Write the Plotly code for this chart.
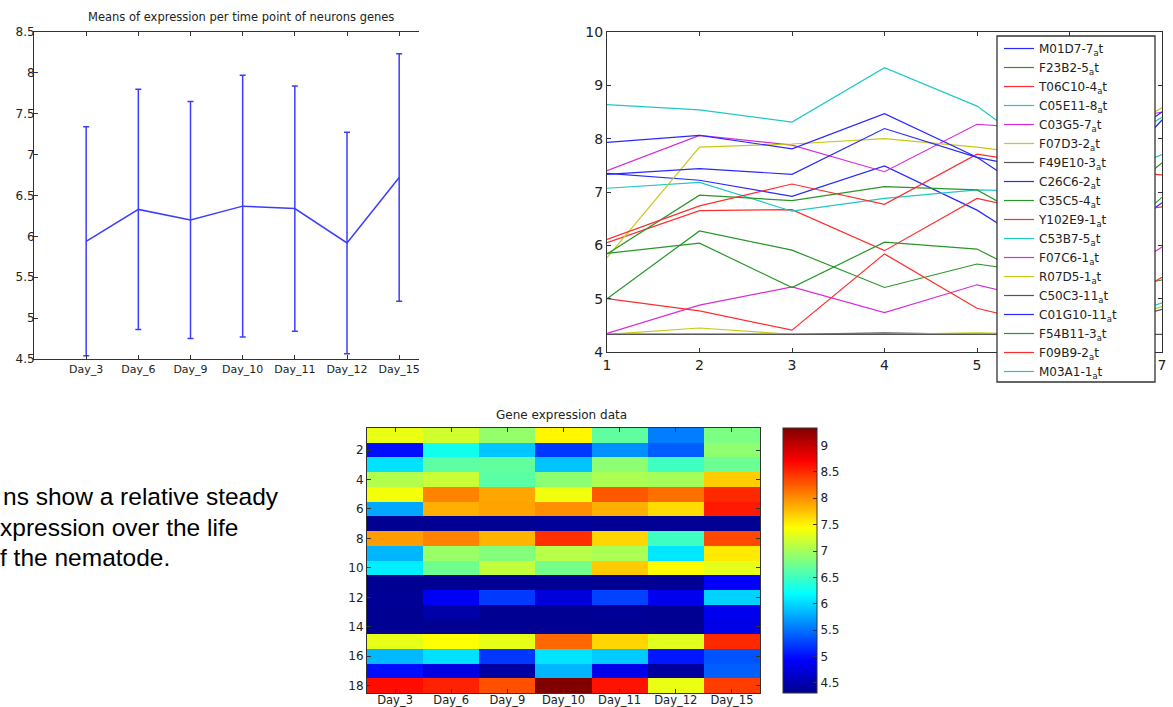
import plotly.graph_objects as go

W, H = 1173, 707

# ---------------- data ----------------
days = ["Day_3", "Day_6", "Day_9", "Day_10", "Day_11", "Day_12", "Day_15"]
time_idx = [1, 2, 3, 4, 5, 6, 7]

# left panel: mean and std of expression per time point
mean_expr = [5.94, 6.33, 6.20, 6.37, 6.34, 5.92, 6.72]
std_expr = [1.40, 1.47, 1.45, 1.60, 1.50, 1.355, 1.515]

genes = ["M01D7-7_at", "F23B2-5_at", "T06C10-4_at", "C05E11-8_at", "C03G5-7_at",
         "F07D3-2_at", "F49E10-3_at", "C26C6-2_at", "C35C5-4_at", "Y102E9-1_at",
         "C53B7-5_at", "F07C6-1_at", "R07D5-1_at", "C50C3-11_at", "C01G10-11_at",
         "F54B11-3_at", "F09B9-2_at", "M03A1-1_at"]

# expression per gene (rows) and time point (columns)
expression = [
    [7.35, 7.22, 6.92, 7.49, 6.66, 5.56, 6.80],
    [5.00, 6.27, 5.91, 5.21, 5.65, 5.40, 6.90],
    [6.05, 6.65, 6.67, 5.90, 6.88, 6.50, 6.72],
    [7.07, 7.18, 6.64, 6.88, 7.04, 7.00, 7.70],
    [7.40, 8.06, 7.88, 7.38, 8.27, 8.15, 8.50],
    [5.77, 7.84, 7.90, 8.00, 7.84, 7.62, 8.58],
    [4.33, 4.33, 4.33, 4.36, 4.33, 4.33, 4.33],
    [7.93, 8.06, 7.81, 8.47, 7.65, 6.50, 8.35],
    [5.84, 6.94, 6.84, 7.10, 7.04, 6.08, 7.55],
    [6.11, 6.74, 7.15, 6.77, 7.71, 7.45, 7.32],
    [4.33, 4.33, 4.33, 4.33, 4.33, 4.33, 4.92],
    [4.35, 4.88, 5.22, 4.74, 5.26, 4.85, 5.97],
    [4.33, 4.45, 4.33, 4.33, 4.36, 4.33, 4.85],
    [4.33, 4.33, 4.33, 4.33, 4.33, 4.33, 4.80],
    [7.33, 7.44, 7.33, 8.19, 7.65, 7.30, 8.50],
    [5.85, 6.04, 5.21, 6.06, 5.93, 5.05, 5.35],
    [5.00, 4.77, 4.41, 5.84, 4.82, 4.40, 5.40],
    [8.64, 8.54, 8.31, 9.33, 8.61, 7.35, 8.40],
]
row_idx = list(range(1, 19))
row_ticks = [2, 4, 6, 8, 10, 12, 14, 16, 18]
cbar_ticks = [4.5, 5, 5.5, 6, 6.5, 7, 7.5, 8, 8.5, 9]

line_colors = ["rgb(40,40,255)", "rgb(40,150,40)", "rgb(255,45,45)", "rgb(30,200,200)",
               "rgb(215,45,215)", "rgb(200,200,25)", "rgb(85,85,85)"]

jet = [[0, "rgb(0,0,143)"], [0.125, "rgb(0,0,255)"], [0.375, "rgb(0,255,255)"],
       [0.625, "rgb(255,255,0)"], [0.875, "rgb(255,0,0)"], [1, "rgb(128,0,0)"]]


def px_x(p):
    return p / W


def px_y(p):
    return 1 - p / H


TXT = "#222"
AX = "#333"

fig = go.Figure()

# left: mean with error bars
fig.add_trace(go.Scatter(
    x=time_idx, y=mean_expr, mode="lines",
    line=dict(color="rgb(60,60,255)", width=1.5),
    error_y=dict(type="data", array=std_expr, visible=True,
                 color="rgb(60,60,255)", thickness=1.5, width=3),
    xaxis="x", yaxis="y", showlegend=False, hoverinfo="skip"))

# right: one line per gene
for i, g in enumerate(genes):
    fig.add_trace(go.Scatter(
        x=time_idx, y=expression[i], mode="lines",
        name=g.replace("_at", "<sub>a</sub>t"),
        line=dict(color=line_colors[i % 7], width=1.2),
        xaxis="x2", yaxis="y2"))

# bottom: heatmap
fig.add_trace(go.Heatmap(
    z=expression, x=time_idx, y=row_idx, colorscale=jet, zmin=4.31, zmax=9.33,
    xaxis="x3", yaxis="y3", showlegend=False,
    colorbar=dict(x=px_x(783), xanchor="left", xpad=0, y=px_y(428), yanchor="top", ypad=0,
                  len=265, lenmode="pixels", thickness=34, thicknessmode="pixels",
                  outlinewidth=1, outlinecolor=AX,
                  tickvals=cbar_ticks, ticks="inside", ticklen=4, tickcolor=AX,
                  tickfont=dict(family="DejaVu Sans", size=12, color=TXT))))

tf11 = dict(family="DejaVu Sans", size=11, color=TXT)
tf12 = dict(family="DejaVu Sans", size=12, color=TXT)
tf14 = dict(family="DejaVu Sans", size=14, color=TXT)
common = dict(showgrid=False, zeroline=False, showline=True, linecolor=AX, linewidth=1,
              ticks="inside", ticklen=4, tickcolor=AX)

fig.update_layout(
    width=W, height=H,
    margin=dict(l=0, r=0, t=0, b=0, autoexpand=False),
    paper_bgcolor="white", plot_bgcolor="white",
    xaxis=dict(domain=[px_x(34), px_x(419)], range=[0, 7.38], tickvals=time_idx,
               ticktext=days, mirror="ticks", tickfont=tf11, anchor="y", **common),
    yaxis=dict(domain=[px_y(359), px_y(32)], range=[4.5, 8.5], dtick=0.5,
               tickfont=tf12, anchor="x", ticklabelstandoff=-4, **common),
    xaxis2=dict(domain=[px_x(607), px_x(1162)], range=[1, 7], dtick=1,
                mirror="ticks", tickfont=tf14, anchor="y2", **common),
    yaxis2=dict(domain=[px_y(352), px_y(32)], range=[4, 10], dtick=1,
                mirror="ticks", tickfont=tf14, anchor="x2", **common),
    xaxis3=dict(domain=[px_x(367), px_x(760)], range=[0.5, 7.5], tickvals=time_idx,
                ticktext=days, mirror="ticks", tickfont=dict(family="DejaVu Sans", size=11.5, color=TXT),
                anchor="y3", ticklabelstandoff=-4, **common),
    yaxis3=dict(domain=[px_y(693), px_y(428)], range=[18.5, 0.5], tickvals=row_ticks,
                mirror="ticks", tickfont=tf12, anchor="x3", **common),
    legend=dict(x=px_x(999), y=px_y(34), xanchor="left", yanchor="top",
                bgcolor="rgba(0,0,0,0)", borderwidth=0, tracegroupgap=0,
                font=dict(family="DejaVu Sans", size=12, color=TXT)),
    shapes=[dict(type="rect", xref="paper", yref="paper",
                 x0=px_x(997), x1=px_x(1155), y0=px_y(382), y1=px_y(36),
                 fillcolor="white", line=dict(color=AX, width=1.3), layer="above")],
    annotations=[
        dict(text="Means of expression per time point of neurons genes", x=px_x(241), y=px_y(17),
             xref="paper", yref="paper", showarrow=False, xanchor="center", yanchor="middle",
             font=dict(family="DejaVu Sans", size=11.5, color=TXT)),
        dict(text="Gene expression data", x=px_x(561), y=px_y(415),
             xref="paper", yref="paper", showarrow=False, xanchor="center", yanchor="middle",
             font=dict(family="DejaVu Sans", size=12, color=TXT)),
        dict(text="ns show a relative steady", x=px_x(1), y=px_y(497),
             xref="paper", yref="paper", showarrow=False, xanchor="left", yanchor="middle",
             font=dict(family="Liberation Sans, Arial", size=24.5, color="black")),
        dict(text="xpression over the life", x=px_x(-2), y=px_y(527),
             xref="paper", yref="paper", showarrow=False, xanchor="left", yanchor="middle",
             font=dict(family="Liberation Sans, Arial", size=24.5, color="black")),
        dict(text="f the nematode.", x=px_x(-2), y=px_y(557),
             xref="paper", yref="paper", showarrow=False, xanchor="left", yanchor="middle",
             font=dict(family="Liberation Sans, Arial", size=24.5, color="black")),
    ],
)

fig.write_html("out.html", config={"displayModeBar": False},
               post_script="document.body.style.margin='0px';")
